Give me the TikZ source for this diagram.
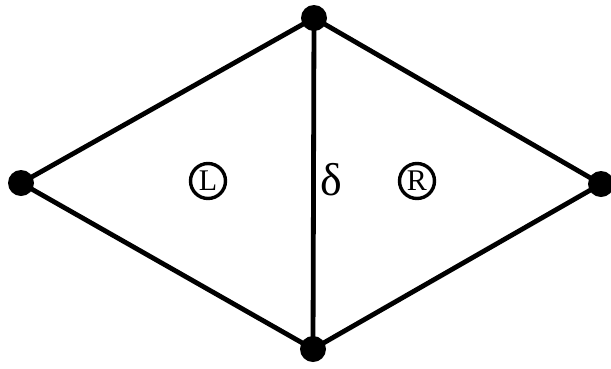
\documentclass[tikz,border=0pt]{standalone}
\usepackage{fontspec}
\setmainfont{Liberation Serif}
\usetikzlibrary{positioning}
\tikzset{vert/.style={circle, fill=black, inner sep=0pt, minimum size=26pt},
  face/.style={circle, draw, line width=3.4pt, inner sep=0pt, minimum size=35pt,
    font=\fontsize{30}{34}\selectfont},
  edge/.style={line width=4.8pt}}
\begin{document}
\begin{tikzpicture}[x=1pt,y=-1pt]
  \useasboundingbox (0,0) rectangle (611,368);
  %% vertices of the two triangles
  \node[vert] (W) at (21,183) {};
  \node[vert] (N) at (314,18) {};
  \node[vert] (E) at (601,184) {};
  \node[vert] (S) at (313,349) {};

  %% edges
  \foreach \a/\b in {W/N,N/E,E/S,S/W,N/S} {
      \draw[edge] (\a.center)--(\b.center);
      }

  %% faces and the diagonal
  \node[face] (L) at (208,181) {L};
  \node[face] (R) at (417,181) {R};
  \node[font=\fontsize{46}{50}\selectfont, inner sep=0pt] (d) at (331,180) {δ};
\end{tikzpicture}
\end{document}
